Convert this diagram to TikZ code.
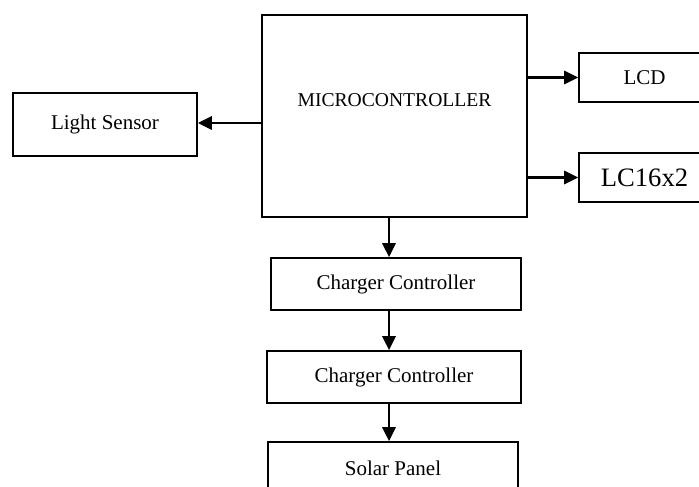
\documentclass[tikz,border=0pt]{standalone}
\usepackage{fontspec}
\setmainfont{Liberation Serif}
\usepackage{tikz}
\usetikzlibrary{arrows.meta,positioning}

\begin{document}
\begin{tikzpicture}[
      x=0.5pt, y=-0.5pt,
      >={Triangle[length=7pt, width=6.5pt]},
      font=\fontsize{10.5}{12}\selectfont,
      blk/.style={draw, line width=0.8pt, inner sep=0pt, align=center},
      arr/.style={->, line width=1.4pt},
    ]
    \useasboundingbox (0,0) rectangle (699,486);

    % central block
    \node[blk, minimum width=132.5pt, minimum height=101pt,
          label={[yshift=8pt, font=\fontsize{9.8}{12}\selectfont]center:MICROCONTROLLER}]
      (mcu) at (394.5,116) {};

    % left and right blocks
    \node[blk, minimum width=92pt, minimum height=31.5pt] (sensor) at (105,124.5) {Light Sensor};
    \node[blk, minimum width=65.5pt, minimum height=24.5pt] (lcd) at (644.5,77.5) {LCD};
    \node[blk, minimum width=65.5pt, minimum height=24.5pt,
          font=\fontsize{13.3}{15}\selectfont] (lc) at (644.5,177.5) {LC16x2};

    % chain below
    \node[blk, minimum width=125pt, minimum height=26pt] (charger) at (396,284) {Charger Controller};
    \node[blk, minimum width=127pt, minimum height=26pt] (chargerb) at (394,377) {Charger Controller};
    \node[blk, minimum width=125pt, minimum height=26pt] (solar) at (393,468) {Solar Panel};

    % arrows
    \draw[arr] (sensor.east -| mcu.west) ++(0,-1.5) -- ([yshift=0.75pt]sensor.east);
    \draw[arr] (lcd.west -| mcu.east) -- (lcd.west);
    \draw[arr] (lc.west -| mcu.east) -- (lc.west);
    \draw[arr] ([xshift=-2.75pt]mcu.south) -- ([xshift=-2.75pt]mcu.south |- charger.north);
    \draw[arr] ([xshift=-2.75pt]mcu.south |- charger.south) -- ([xshift=-2.75pt]mcu.south |- chargerb.north);
    \draw[arr] ([xshift=-2.75pt]mcu.south |- chargerb.south) -- ([xshift=-2.75pt]mcu.south |- solar.north);
  \end{tikzpicture}
\end{document}
